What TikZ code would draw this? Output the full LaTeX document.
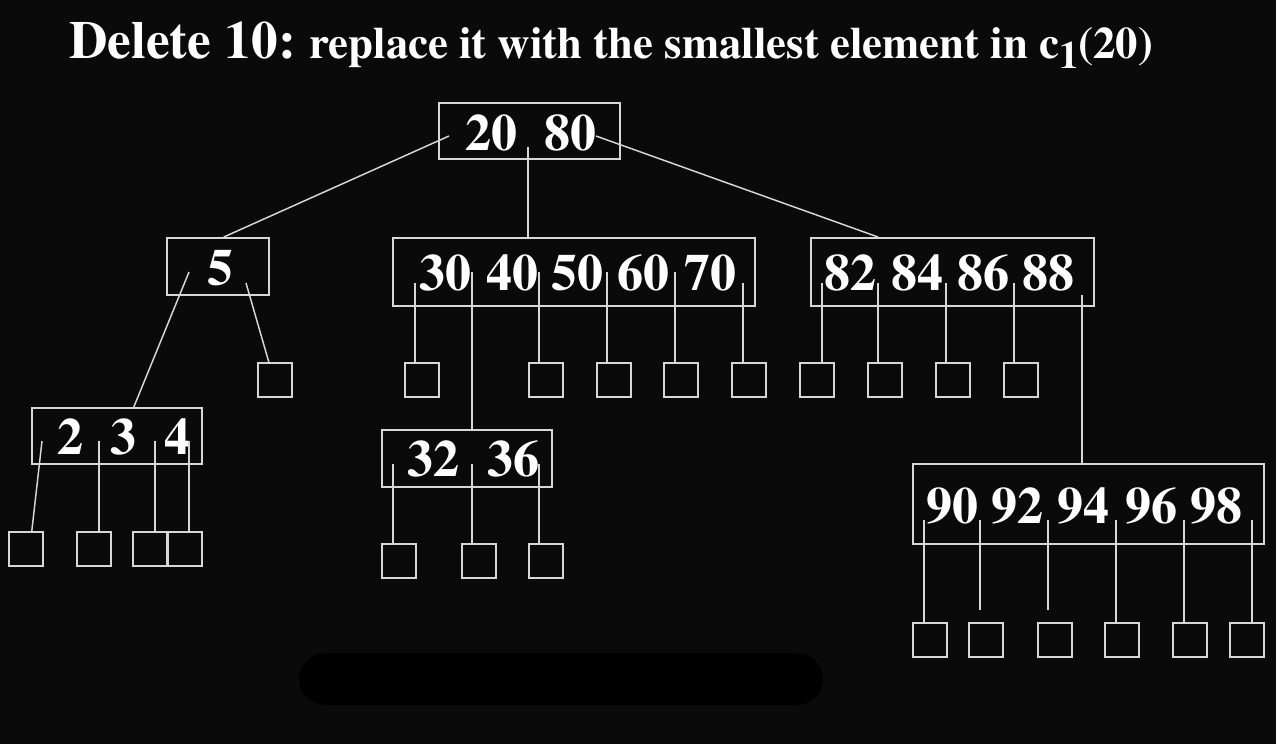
\documentclass[tikz,border=0pt]{standalone}
\usepackage[T1]{fontenc}
\renewcommand{\rmdefault}{ptm}
\definecolor{bgcol}{RGB}{10,10,10}
\definecolor{linegray}{RGB}{215,215,215}
\begin{document}
\begin{tikzpicture}[x=0.75pt, y=-0.75pt,
    bbox/.style={draw=linegray, line width=1.2pt, inner sep=0pt, anchor=north west},
    leaf/.style={draw=linegray, line width=1.2pt, inner sep=0pt, anchor=north west,
                 minimum width=25.5pt, minimum height=25.5pt},
    key/.style={font=\bfseries\fontsize{39}{39}\selectfont, text=white, inner sep=0pt},
    ptr/.style={draw=linegray, line width=1.1pt}]

  % ---- canvas: pixel grid, origin top left ----
  \useasboundingbox (0,0) rectangle (1276,744);
  \fill[bgcol] (0,0) rectangle (1276,744);

  % ---- title ----
  \node[anchor=base west, inner sep=0pt, text=white, font=\bfseries\fontsize{33.6}{33.6}\selectfont]
    (title) at (69,58)
    {{\fontsize{40}{40}\selectfont Delete 10:} replace it with the smallest element in
     c\raisebox{-7.5pt}{\fontsize{29}{29}\selectfont 1}(20)};

  % ---- tree nodes: {name / left / top / width / height} ----
  \foreach \nm/\xa/\ya/\w/\h in {root/438/102/181/56, n5/166/237/102/57,
      n30/392/237/362/68, n82/810/237/283/68, n2/31/407/170/56,
      n32/381/429/170/57, n90/912/463/351/80} {
    \node[bbox, minimum width=\w*0.75pt, minimum height=\h*0.75pt] (\nm) at (\xa,\ya) {};
  }

  % ---- keys: {x / y / value} ----
  \foreach \xx/\yy/\k in {491/133/20, 570/133/80, 220/268/5,
      445/273/30, 512/273/40, 577/273/50, 643/273/60, 710/273/70,
      850/273/82, 917/273/84, 983/273/86, 1048/273/88,
      70/437/2, 123/437/3, 177/437/4, 433/459/32, 513/459/36,
      952/506/90, 1017/506/92, 1083/506/94, 1151/506/96, 1216/506/98} {
    \node[key] (k\k) at (\xx,\yy) {\k};
  }

  % ---- empty subtrees: {name / left / top} ----
  \foreach \nm/\xa/\ya in {l5a/257/362,
      l2a/8/531, l2b/76/531, l2c/132/531, l2d/167/531,
      l30a/404/362, l30c/528/362, l30d/596/362, l30e/663/362, l30f/731/362,
      l32a/381/543, l32b/461/543, l32c/528/543,
      l82a/799/362, l82b/867/362, l82c/935/362, l82d/1003/362,
      l90a/912/622, l90b/968/622, l90c/1037/622, l90d/1104/622,
      l90e/1172/622, l90f/1229/622} {
    \node[leaf] (\nm) at (\xa,\ya) {};
  }

  % ---- slanted pointers ----
  \coordinate (pr1) at (449,136);
  \coordinate (pr3) at (596,136);
  \coordinate (p5a) at (189,272);
  \coordinate (p5b) at (246,283);
  \coordinate (p2a) at (42,441);
  \draw[ptr] (pr1) -- ([xshift=4.5pt]n5.north);
  \draw[ptr] (pr3) -- ([xshift=51pt]n82.north west);
  \draw[ptr] (p5a) -- ([xshift=12.75pt]n2.north);
  \draw[ptr] (p5b) -- ([xshift=-4.5pt]l5a.north);
  \draw[ptr] (p2a) -- ([xshift=4.5pt]l2a.north);

  % ---- straight pointers: {name / x / y / child} ----
  \foreach \nm/\xx/\yy/\ch in {pr2/528/147/n30,
      p2b/99/441/l2b, p2c/155/441/l2c, p2d/189/441/l2d,
      p30a/415/283/l30a, p30b/472/272/n32, p30c/539/272/l30c,
      p30d/607/272/l30d, p30e/675/272/l30e, p30f/743/283/l30f,
      p32a/393/464/l32a, p32b/472/464/l32b, p32c/539/464/l32c,
      p82a/822/283/l82a, p82b/878/283/l82b, p82c/946/283/l82c,
      p82d/1014/283/l82d, p82e/1082/295/n90,
      p90a/924/520/l90a, p90d/1116/520/l90d, p90e/1184/520/l90e,
      p90f/1252/520/l90f} {
    \coordinate (\nm) at (\xx,\yy);
    \draw[ptr] (\nm) -- (\nm |- \ch.north);
  }
  % two that stop short of their boxes
  \coordinate (p90b) at (980,520);
  \coordinate (p90c) at (1048,520);
  \draw[ptr, shorten >=9pt] (p90b) -- (p90b |- l90b.north);
  \draw[ptr, shorten >=9pt] (p90c) -- (p90c |- l90c.north);

  % ---- blacked-out strip ----
  \draw[black, line width=39pt, line cap=round] (325,679) -- (797,679);

\end{tikzpicture}
\end{document}
